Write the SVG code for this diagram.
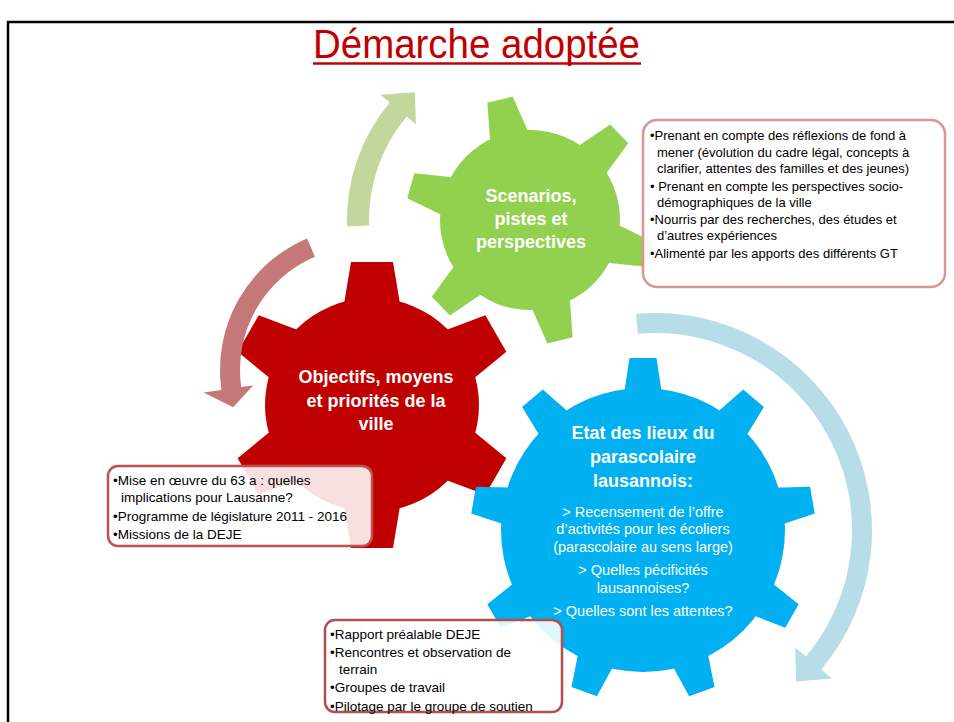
<svg xmlns="http://www.w3.org/2000/svg" xmlns:xlink="http://www.w3.org/1999/xlink" width="954" height="722" viewBox="0 0 954 722">
<style>
.t{font-family:"Liberation Sans",Arial,sans-serif}
.gl{font-family:"Liberation Sans",Arial,sans-serif;font-weight:bold;font-size:18px;fill:#fff;text-anchor:middle}
.bl{font-family:"Liberation Sans",Arial,sans-serif;font-size:14.5px;fill:#fff;text-anchor:middle}
.bx{font-family:"Liberation Sans",Arial,sans-serif;font-size:13px;fill:#000}
.bx2{font-family:"Liberation Sans",Arial,sans-serif;font-size:13.5px;fill:#000}
</style>
<defs>
<polygon id="toothG" points="-20,-84 -13,-124 13,-124 20,-84"/>
<polygon id="toothR" points="-28,-101 -21,-143 21,-143 28,-101"/>
<polygon id="toothB" points="-19,-136 -13.5,-172 13.5,-172 19,-136"/>
</defs>
<rect width="954" height="722" fill="#fff"/>
<path d="M8,722 V22 H954" fill="none" stroke="#000" stroke-width="2.5"/>
<g id="title">
<text class="t" x="313" y="58" font-size="40" fill="#c00000" textLength="327" lengthAdjust="spacingAndGlyphs">Démarche adoptée</text>
<line x1="313" y1="63.5" x2="641" y2="63.5" stroke="#c00000" stroke-width="2.5"/>
</g>
<g id="gear-red" fill="#c00000">
<g transform="translate(372,405)">
<circle r="107"/>
<use xlink:href="#toothR"/>
<use xlink:href="#toothR" transform="rotate(60)"/>
<use xlink:href="#toothR" transform="rotate(120)"/>
<use xlink:href="#toothR" transform="rotate(180)"/>
<use xlink:href="#toothR" transform="rotate(240)"/>
<use xlink:href="#toothR" transform="rotate(300)"/>
</g>
<text class="gl" x="376" y="383">Objectifs, moyens</text>
<text class="gl" x="376" y="407">et priorités de la</text>
<text class="gl" x="376" y="430">ville</text>
</g>
<g id="gear-green" fill="#92d050">
<g transform="translate(530,220)">
<circle r="90"/>
<use xlink:href="#toothG" transform="rotate(-14)"/>
<use xlink:href="#toothG" transform="rotate(46)"/>
<use xlink:href="#toothG" transform="rotate(106)"/>
<use xlink:href="#toothG" transform="rotate(166)"/>
<use xlink:href="#toothG" transform="rotate(226)"/>
<use xlink:href="#toothG" transform="rotate(286)"/>
</g>
<text class="gl" x="531" y="202">Scenarios,</text>
<text class="gl" x="531" y="225">pistes et</text>
<text class="gl" x="531" y="248">perspectives</text>
</g>
<g id="gear-blue" fill="#00b0f0">
<g transform="translate(643,530)">
<circle r="142"/>
<use xlink:href="#toothB"/>
<use xlink:href="#toothB" transform="rotate(40)"/>
<use xlink:href="#toothB" transform="rotate(80)"/>
<use xlink:href="#toothB" transform="rotate(120)"/>
<use xlink:href="#toothB" transform="rotate(160)"/>
<use xlink:href="#toothB" transform="rotate(200)"/>
<use xlink:href="#toothB" transform="rotate(240)"/>
<use xlink:href="#toothB" transform="rotate(280)"/>
<use xlink:href="#toothB" transform="rotate(320)"/>
</g>
<text class="gl" x="643" y="439">Etat des lieux du</text>
<text class="gl" x="643" y="463">parascolaire</text>
<text class="gl" x="643" y="487">lausannois:</text>
<text class="bl" x="643" y="517">&gt; Recensement de l’offre</text>
<text class="bl" x="643" y="534">d’activités pour les écoliers</text>
<text class="bl" x="643" y="552">(parascolaire au sens large)</text>
<text class="bl" x="643" y="575">&gt; Quelles pécificités</text>
<text class="bl" x="643" y="593">lausannoises?</text>
<text class="bl" x="643" y="616">&gt; Quelles sont les attentes?</text>
</g>
<g id="connectors">
<path d="M347.1,226.4 A183,183 0 0 1 389.8,102.4 L380.6,94.7 L414.9,92.2 L415.9,124.2 L406.7,116.5 A161,161 0 0 0 369.1,225.6 Z" fill="#c3d69b"/>
<path d="M307.1,238.4 A143,143 0 0 0 221.4,389.9 L203.6,392.4 L233.2,407.2 L253.1,385.4 L241.2,387.1 A123,123 0 0 1 314.9,256.8 Z" fill="#c57877"/>
<path d="M636.1,313.8 A217,217 0 0 1 821.2,669.5 L832.0,678.5 L796.2,681.4 L795.2,647.6 L805.9,656.6 A197,197 0 0 0 637.8,333.7 Z" fill="#b7dde8"/>
</g>
<g id="box-scenarios">
<rect x="643" y="120" width="302" height="167" rx="14" fill="#fff" fill-opacity="0.9" stroke="#d99694" stroke-width="2.5"/>
<text class="bx" x="650" y="140">•Prenant en compte des réflexions de fond à</text>
<text class="bx" x="657" y="157">mener (évolution du cadre légal, concepts à</text>
<text class="bx" x="657" y="173">clarifier, attentes des familles et des jeunes)</text>
<text class="bx" x="650" y="191">• Prenant en compte les perspectives socio-</text>
<text class="bx" x="657" y="207">démographiques de la ville</text>
<text class="bx" x="650" y="224">•Nourris par des recherches,  des études et</text>
<text class="bx" x="657" y="240">d’autres expériences</text>
<text class="bx" x="650" y="258">•Alimenté par les apports des différents GT</text>
</g>
<g id="box-objectifs">
<rect x="108" y="466" width="264" height="80" rx="10" fill="#fff" fill-opacity="0.88" stroke="#c0504d" stroke-width="2.5"/>
<text class="bx2" x="113" y="485">•Mise en œuvre du 63 a : quelles</text>
<text class="bx2" x="121" y="502">implications pour Lausanne?</text>
<text class="bx2" x="113" y="521">•Programme de législature 2011 - 2016</text>
<text class="bx2" x="113" y="539">•Missions de la DEJE</text>
</g>
<g id="box-etat">
<rect x="325" y="620" width="237" height="92" rx="10" fill="#fff" fill-opacity="0.88" stroke="#b0504e" stroke-width="2.5"/>
<text class="bx2" x="330" y="639">•Rapport préalable DEJE</text>
<text class="bx2" x="330" y="657">•Rencontres et observation de</text>
<text class="bx2" x="339" y="674">terrain</text>
<text class="bx2" x="330" y="692">•Groupes de travail</text>
<text class="bx2" x="330" y="711">•Pilotage par le groupe de soutien</text>
</g>
</svg>
